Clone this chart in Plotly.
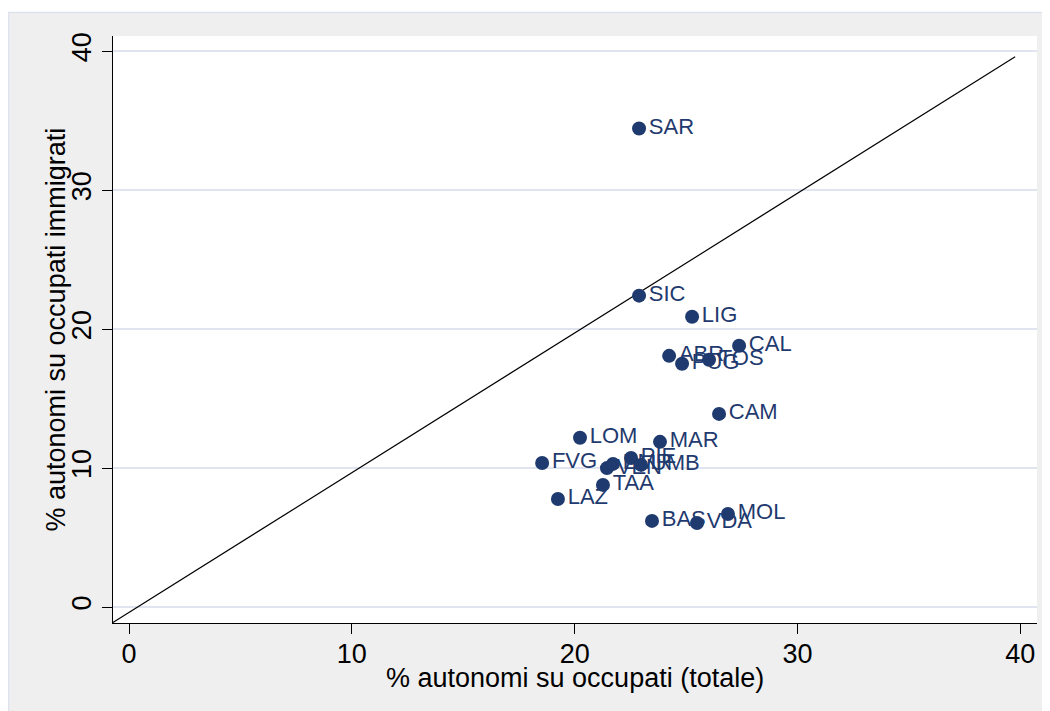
import plotly.graph_objects as go

regions = ["SAR", "SIC", "LIG", "CAL", "ABR", "TOS", "PUG", "CAM", "LOM", "MAR",
           "FVG", "PIE", "VEN", "EMR", "UMB", "TAA", "LAZ", "BAS", "VDA", "MOL"]
pct_total = [22.89, 22.89, 25.27, 27.38, 24.24, 26.03, 24.82, 26.48, 20.24, 23.83,
             18.54, 22.53, 21.45, 21.72, 22.98, 21.27, 19.25, 23.47, 25.49, 26.88]
pct_immigrati = [34.44, 22.41, 20.89, 18.80, 18.08, 17.80, 17.51, 13.90, 12.18, 11.89,
                 10.37, 10.73, 10.00, 10.30, 10.23, 8.79, 7.78, 6.20, 6.05, 6.70]

# reference line (approximately y = x)
ref_x = [-0.76, 39.77]
ref_y = [-1.15, 39.60]

x_ticks = [0, 10, 20, 30, 40]
y_ticks = [0, 10, 20, 30, 40]

x_title = "% autonomi su occupati (totale)"
y_title = "% autonomi su occupati immigrati"

navy = "#1f3a6e"
font_family = "Liberation Sans, Arial, sans-serif"

fig = go.Figure()
fig.add_trace(go.Scatter(x=ref_x, y=ref_y, mode="lines",
                         line=dict(color="black", width=1.2),
                         hoverinfo="skip", showlegend=False, cliponaxis=False))
fig.add_trace(go.Scatter(x=pct_total, y=pct_immigrati, mode="markers+text",
                         text=regions, textposition="middle right",
                         textfont=dict(family=font_family, size=22, color=navy),
                         marker=dict(color=navy, size=14),
                         showlegend=False, cliponaxis=False))

W, H = 1050, 711
L, R, T, B = 105, 21, 28, 96
pw, ph = W - L - R, H - T - B

def px2x(px):
    return (px - L) / pw

def py2y(py):
    return (H - B - py) / ph

shapes = [
    dict(type="rect", xref="paper", yref="paper", x0=px2x(-5), x1=px2x(W + 5),
         y0=py2y(4), y1=py2y(-5), fillcolor="white", line=dict(width=0), layer="below"),
    dict(type="rect", xref="paper", yref="paper", x0=px2x(0.5), x1=px2x(W + 5),
         y0=py2y(H + 5), y1=py2y(4.5), fillcolor="rgba(0,0,0,0)",
         line=dict(color="#dde2ee", width=1.5), layer="below"),
]

annotations = [
    dict(text=x_title, xref="paper", yref="paper", x=0.5, y=py2y(670),
         xanchor="center", yanchor="middle", showarrow=False,
         font=dict(size=27, family=font_family, color="black")),
    dict(text=y_title, xref="paper", yref="paper", x=px2x(47), y=0.5,
         xanchor="center", yanchor="middle", showarrow=False, textangle=-90,
         font=dict(size=27, family=font_family, color="black")),
]

fig.update_layout(
    width=W, height=H,
    margin=dict(l=L, r=R, t=T, b=B, pad=0, autoexpand=False),
    paper_bgcolor="#efefef",
    plot_bgcolor="white",
    font=dict(family=font_family, color="black"),
    shapes=shapes,
    annotations=annotations,
    xaxis=dict(range=[-0.72, 40.75], tickvals=x_ticks, ticks="outside", ticklen=10,
               tickwidth=1.2, tickcolor="black", showline=True, linecolor="black",
               linewidth=1.2, showgrid=False, zeroline=False, automargin=False,
               ticklabelstandoff=-4,
               tickfont=dict(size=27, family=font_family)),
    yaxis=dict(range=[-1.15, 41.1], tickvals=y_ticks, ticks="outside", ticklen=10,
               tickwidth=1.2, tickcolor="black", showline=True, linecolor="black",
               linewidth=1.2, showgrid=True, gridcolor="#dfe4f0", gridwidth=1.5,
               zeroline=False, tickangle=-90, automargin=False,
               tickfont=dict(size=27, family=font_family)),
)

fig.write_html("out.html")
